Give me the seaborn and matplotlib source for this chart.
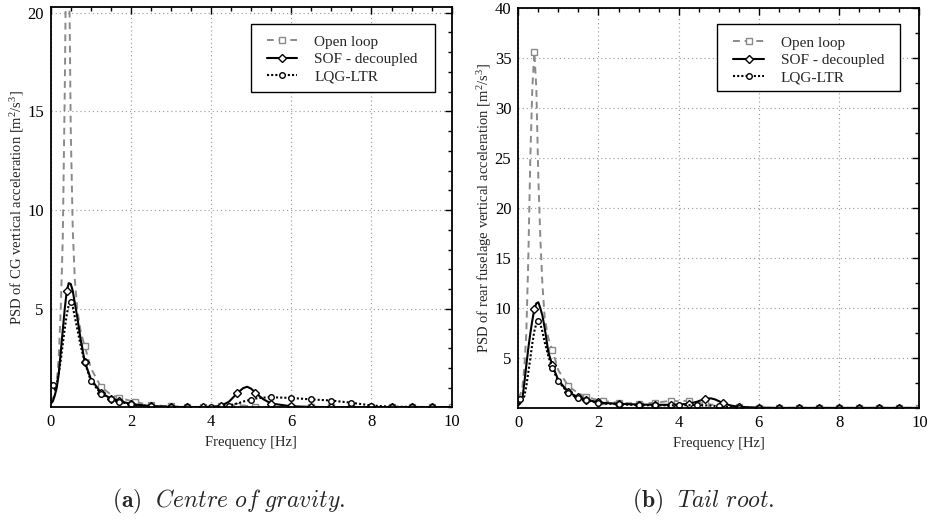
import numpy as np
import matplotlib
matplotlib.use("Agg")
import matplotlib.pyplot as plt
from matplotlib.lines import Line2D
from matplotlib.patches import Rectangle
from matplotlib.ticker import MultipleLocator
import seaborn as sns

# ---------------- data ----------------
freq = [0, 0.05, 0.1, 0.15, 0.2, 0.25, 0.3, 0.35, 0.4, 0.45,
        0.5, 0.55, 0.6, 0.66, 0.75, 0.85, 1.0, 1.25, 1.5, 1.7,
        2.0, 2.1, 2.5, 3.0, 3.4, 3.8, 4.0, 4.25, 4.45, 4.65,
        4.8, 4.9, 5.0, 5.1, 5.3, 5.5, 6.0, 6.5, 7.0, 7.5,
        8.0, 8.5, 9.0, 9.5, 10.0]

# (a) Centre of gravity
cg_open = [0.3, 0.45, 0.7, 1.3, 2.5, 5.0, 8.5, 16.0, 26.0, 24.0,
           14.0, 9.0, 6.5, 5.0, 3.8, 3.1, 2.0, 1.05, 0.65, 0.5,
           0.33, 0.28, 0.12, 0.05, 0.03, 0.03, 0.03, 0.05, 0.08, 0.1,
           0.1, 0.08, 0.06, 0.04, 0.03, 0.02, 0.02, 0.02, 0.02, 0.02,
           0.02, 0.02, 0.02, 0.02, 0.02]
cg_sof = [0.2, 0.3, 0.6, 1.0, 1.7, 2.8, 3.9, 5.0, 5.9, 6.3,
          6.25, 5.9, 5.3, 4.6, 3.4, 2.3, 1.45, 0.75, 0.45, 0.33,
          0.18, 0.15, 0.07, 0.03, 0.02, 0.02, 0.03, 0.08, 0.3, 0.72,
          0.98, 1.05, 0.95, 0.75, 0.42, 0.2, 0.06, 0.03, 0.02, 0.02,
          0.02, 0.02, 0.02, 0.02, 0.02]
cg_lqg = [1.3, 1.15, 0.9, 1.2, 1.7, 2.4, 3.2, 4.0, 4.7, 5.2,
          5.35, 5.1, 4.6, 4.0, 3.1, 2.3, 1.35, 0.7, 0.42, 0.3,
          0.16, 0.13, 0.06, 0.03, 0.02, 0.02, 0.02, 0.04, 0.1, 0.2,
          0.3, 0.35, 0.4, 0.45, 0.5, 0.52, 0.48, 0.41, 0.35, 0.24,
          0.1, 0.04, 0.03, 0.02, 0.02]

# (b) Tail root
tail_open = [1.0, 1.4, 2.0, 4.0, 7.5, 15.0, 25.0, 32.0, 35.6, 32.0,
             23.0, 17.0, 12.5, 9.0, 7.0, 5.8, 3.8, 2.2, 1.5, 1.15,
             0.8, 0.75, 0.55, 0.48, 0.55, 0.75, 0.72, 0.75, 0.6, 0.45,
             0.38, 0.33, 0.28, 0.22, 0.15, 0.1, 0.06, 0.05, 0.05, 0.05,
             0.05, 0.05, 0.05, 0.05, 0.05]
tail_sof = [0.3, 0.5, 0.9, 2.5, 4.3, 6.0, 7.5, 8.8, 9.9, 10.5,
            10.6, 10.0, 9.3, 8.0, 5.6, 4.3, 2.8, 1.6, 1.1, 0.85,
            0.6, 0.55, 0.45, 0.38, 0.35, 0.35, 0.38, 0.45, 0.65, 0.95,
            1.0, 0.9, 0.72, 0.52, 0.28, 0.15, 0.06, 0.04, 0.04, 0.04,
            0.04, 0.04, 0.04, 0.04, 0.04]
tail_lqg = [1.1, 0.9, 0.8, 1.2, 2.2, 3.6, 5.0, 6.5, 7.7, 8.5,
            8.7, 8.4, 7.7, 6.6, 5.2, 4.0, 2.7, 1.5, 1.0, 0.8,
            0.55, 0.5, 0.4, 0.32, 0.3, 0.3, 0.3, 0.32, 0.33, 0.3,
            0.27, 0.24, 0.2, 0.16, 0.1, 0.07, 0.04, 0.03, 0.03, 0.03,
            0.03, 0.03, 0.03, 0.03, 0.03]

series_labels = ["Open loop", "SOF - decoupled", "LQG-LTR"]
xlabel = "Frequency [Hz]"
ylabel_cg = r"PSD of CG vertical acceleration [m$^2$/s$^3$]"
ylabel_tail = r"PSD of rear fuselage vertical acceleration [m$^2$/s$^3$]"
caption_a = r"$\mathbf{(a)}\ \ \mathit{Centre\ of\ gravity.}$"
caption_b = r"$\mathbf{(b)}\ \ \mathit{Tail\ root.}$"

# marker positions (frequencies where the symbols sit)
marks_open = [0.4, 0.85, 1.25, 1.7, 2.1, 2.5, 3.0, 3.4, 3.8, 4.25, 4.65, 5.1,
              5.5, 6.0, 6.5, 7.0, 7.5, 8.0, 8.5, 9.0, 9.5, 10.0]
marks_sof = [0.4, 0.85, 1.25, 1.5, 1.7, 2.0, 2.5, 3.0, 3.4, 3.8, 4.25, 4.65,
             5.1, 5.5, 6.0, 6.5, 7.0, 7.5, 8.0, 8.5, 9.0, 9.5]
marks_lqg = [0.05, 0.5, 0.85, 1.0, 1.25, 1.5, 1.7, 2.0, 2.5, 3.0, 3.4, 4.0,
             4.45, 5.0, 5.5, 6.0, 6.5, 7.0, 7.5, 8.0, 8.5, 9.0, 9.5]

# ---------------- style ----------------
sns.set_theme(style="white")
plt.rcParams["font.family"] = ["Liberation Serif", "DejaVu Serif"]
plt.rcParams["mathtext.fontset"] = "custom"
plt.rcParams["mathtext.rm"] = "Liberation Serif"
plt.rcParams["mathtext.it"] = "Liberation Serif:italic"
plt.rcParams["mathtext.bf"] = "Liberation Serif:bold"

styles = [
    dict(color="#8a8a8a", linestyle=(0, (3.5, 2.5)), linewidth=1.4, marker="s",
         markersize=4.5, markerfacecolor="white", markeredgecolor="#8a8a8a",
         markeredgewidth=1.0),
    dict(color="black", linestyle="-", linewidth=1.5, marker="D",
         markersize=4.0, markerfacecolor="white", markeredgecolor="black",
         markeredgewidth=1.0),
    dict(color="black", linestyle=(0, (1.0, 1.0)), linewidth=1.5, marker="o",
         markersize=4.0, markerfacecolor="white", markeredgecolor="black",
         markeredgewidth=1.0),
]
marks = [marks_open, marks_sof, marks_lqg]

fig = plt.figure(figsize=(9.29, 5.27), dpi=100)
ax1 = fig.add_axes([0.0546, 0.2268, 0.4316, 0.7605])
ax2 = fig.add_axes([0.5579, 0.2252, 0.4317, 0.7591])

freq_arr = np.array(freq)


def draw(ax, values, ylim, ymajor, yminor, ylabel, box, leg_anchor):
    for vals, st, mk in zip(values, styles, marks):
        idx = [int(np.argmin(np.abs(freq_arr - m))) for m in mk]
        sns.lineplot(x=freq, y=vals, ax=ax, sort=False, markevery=idx,
                     legend=False, **st)
    ax.set_xlim(0, 10)
    ax.set_ylim(*ylim)
    ax.xaxis.set_major_locator(MultipleLocator(2))
    ax.xaxis.set_minor_locator(MultipleLocator(0.5))
    ax.set_yticks(ymajor)
    ax.yaxis.set_minor_locator(MultipleLocator(yminor))
    ax.tick_params(which="both", direction="in", top=True, right=True,
                   colors="black", labelsize=12, width=1.0)
    ax.tick_params(which="major", length=5, pad=5)
    ax.tick_params(which="minor", length=3)
    ax.grid(True, which="major", linestyle=(0, (1, 2.5)), color="#a0a0a0",
            linewidth=0.85)
    for s in ax.spines.values():
        s.set_color("black")
        s.set_linewidth(1.3)
    ax.set_xlabel(xlabel, fontsize=10.5, labelpad=4)
    ax.set_ylabel(ylabel, fontsize=10.5, labelpad=0.5)
    # legend frame
    x0, y0, x1, y1 = box
    ax.add_patch(Rectangle((x0, y0), x1 - x0, y1 - y0, transform=ax.transAxes,
                           facecolor="white", edgecolor="black", linewidth=1.0,
                           zorder=4.5, clip_on=False))
    handles = [Line2D([0], [0], **st) for st in styles]
    ax.legend(handles, series_labels, loc="upper left",
              bbox_to_anchor=leg_anchor, fontsize=11, frameon=False,
              borderpad=0, labelspacing=0.24, handlelength=2.0,
              handletextpad=1.1, borderaxespad=0)


draw(ax1, [cg_open, cg_sof, cg_lqg], (0, 20.3), [5, 10, 15, 20], 1, ylabel_cg,
     (0.4995, 0.786, 0.958, 0.957), (0.539, 0.929))
draw(ax2, [tail_open, tail_sof, tail_lqg], (0, 40),
     [5, 10, 15, 20, 25, 30, 35, 40], 2.5, ylabel_tail,
     (0.4955, 0.792, 0.951, 0.961), (0.536, 0.931))

fig.text(0.246, 0.049, caption_a, fontsize=17, ha="center", va="center",
         math_fontfamily="cm")
fig.text(0.757, 0.049, caption_b, fontsize=17, ha="center", va="center",
         math_fontfamily="cm")

fig.savefig("out.png", dpi=100)
